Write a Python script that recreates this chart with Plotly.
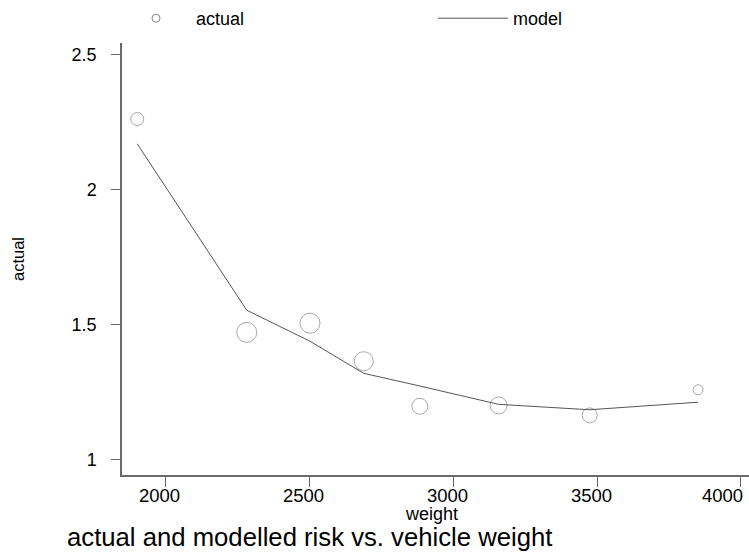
import plotly.graph_objects as go

# vehicle weight groups and observed risk (bubble size ~ group size)
weight = [1900, 2281, 2501, 2688, 2883, 3157, 3474, 3851]
actual = [2.262, 1.471, 1.505, 1.364, 1.197, 1.200, 1.163, 1.258]
bubble = [13, 20, 20, 19, 16, 17, 15, 10]

# fitted model risk at the same weights
model = [2.170, 1.553, 1.438, 1.319, 1.272, 1.204, 1.184, 1.212]

xticks = [2000, 2500, 3000, 3500, 4000]
xticklabels = ["2000", "2500", "3000", "3500", "4000"]
yticks = [1, 1.5, 2, 2.5]
yticklabels = ["1", "1.5", "2", "2.5"]

FONT = "Liberation Sans, Arial, sans-serif"
CIRCLE = "#858585"
LINE = "#555555"
AXIS = "#6a6a6a"

W, H = 749, 553
L, R, T, B = 122, 0, 43, 78
PW, PH = W - L - R, H - T - B


def paper_y(py):
    """pixel row in the page -> paper y coordinate"""
    return (T + PH - py) / PH


fig = go.Figure()

fig.add_trace(go.Scatter(
    x=weight, y=actual, mode="markers", name="actual", showlegend=False,
    marker=dict(size=bubble, symbol="circle-open", color=CIRCLE,
                line=dict(width=1, color=CIRCLE)),
))
# legend entry with a small fixed-size circle
fig.add_trace(go.Scatter(
    x=[None], y=[None], mode="markers", name="actual", legend="legend",
    marker=dict(size=8, symbol="circle-open", color=CIRCLE,
                line=dict(width=1, color=CIRCLE)),
))
fig.add_trace(go.Scatter(
    x=weight, y=model, mode="lines", name="model", legend="legend2",
    line=dict(width=1, color=LINE),
))

legend_common = dict(
    orientation="h", xref="container", yref="container",
    y=1.0, xanchor="left", yanchor="top", itemwidth=70,
    font=dict(size=18, family=FONT, color="black"), bgcolor="rgba(0,0,0,0)",
)

# x tick labels sit slightly left of their ticks; the last one is kept
# inside the page
annotations = []
for v, lab in zip(xticks, xticklabels):
    annotations.append(dict(
        text=lab, x=v, xref="x", y=paper_y(495), yref="paper",
        xanchor="center", yanchor="middle", showarrow=False,
        xshift=-18 if v == xticks[-1] else -6,
        font=dict(size=18.5, family=FONT, color="black"),
    ))
annotations.append(dict(
    text="weight", xref="paper", yref="paper",
    x=(431 - L) / PW, y=paper_y(514),
    xanchor="center", yanchor="middle", showarrow=False,
    font=dict(size=18, family=FONT, color="black"),
))

fig.update_layout(
    width=W, height=H,
    margin=dict(l=L, r=R, t=T, b=B, autoexpand=False),
    paper_bgcolor="white", plot_bgcolor="white",
    font=dict(family=FONT, size=17, color="black"),
    showlegend=True,
    legend=dict(x=116 / W, **legend_common),
    legend2=dict(x=433 / W, **legend_common),
    title=dict(
        text="actual and modelled risk vs. vehicle weight",
        xref="container", yref="container",
        x=67 / W, y=1 - 537 / H, xanchor="left", yanchor="middle",
        font=dict(size=25.7, family=FONT, color="black"),
    ),
    xaxis=dict(
        range=[1847, 4028], tickvals=xticks, showticklabels=False,
        showgrid=False, zeroline=False,
        showline=True, linecolor=AXIS, linewidth=1.5,
        ticks="outside", ticklen=10, tickcolor=AXIS, tickwidth=1.2,
    ),
    yaxis=dict(
        range=[0.942, 2.544], tickvals=yticks, ticktext=yticklabels,
        showgrid=False, zeroline=False,
        showline=True, linecolor=AXIS, linewidth=1.5,
        ticks="outside", ticklen=9, tickcolor=AXIS, tickwidth=1.2,
        tickfont=dict(size=18), ticklabelstandoff=11,
        title=dict(text="actual", font=dict(size=16.5), standoff=43),
    ),
    annotations=annotations,
)

fig.write_html("out.html")
